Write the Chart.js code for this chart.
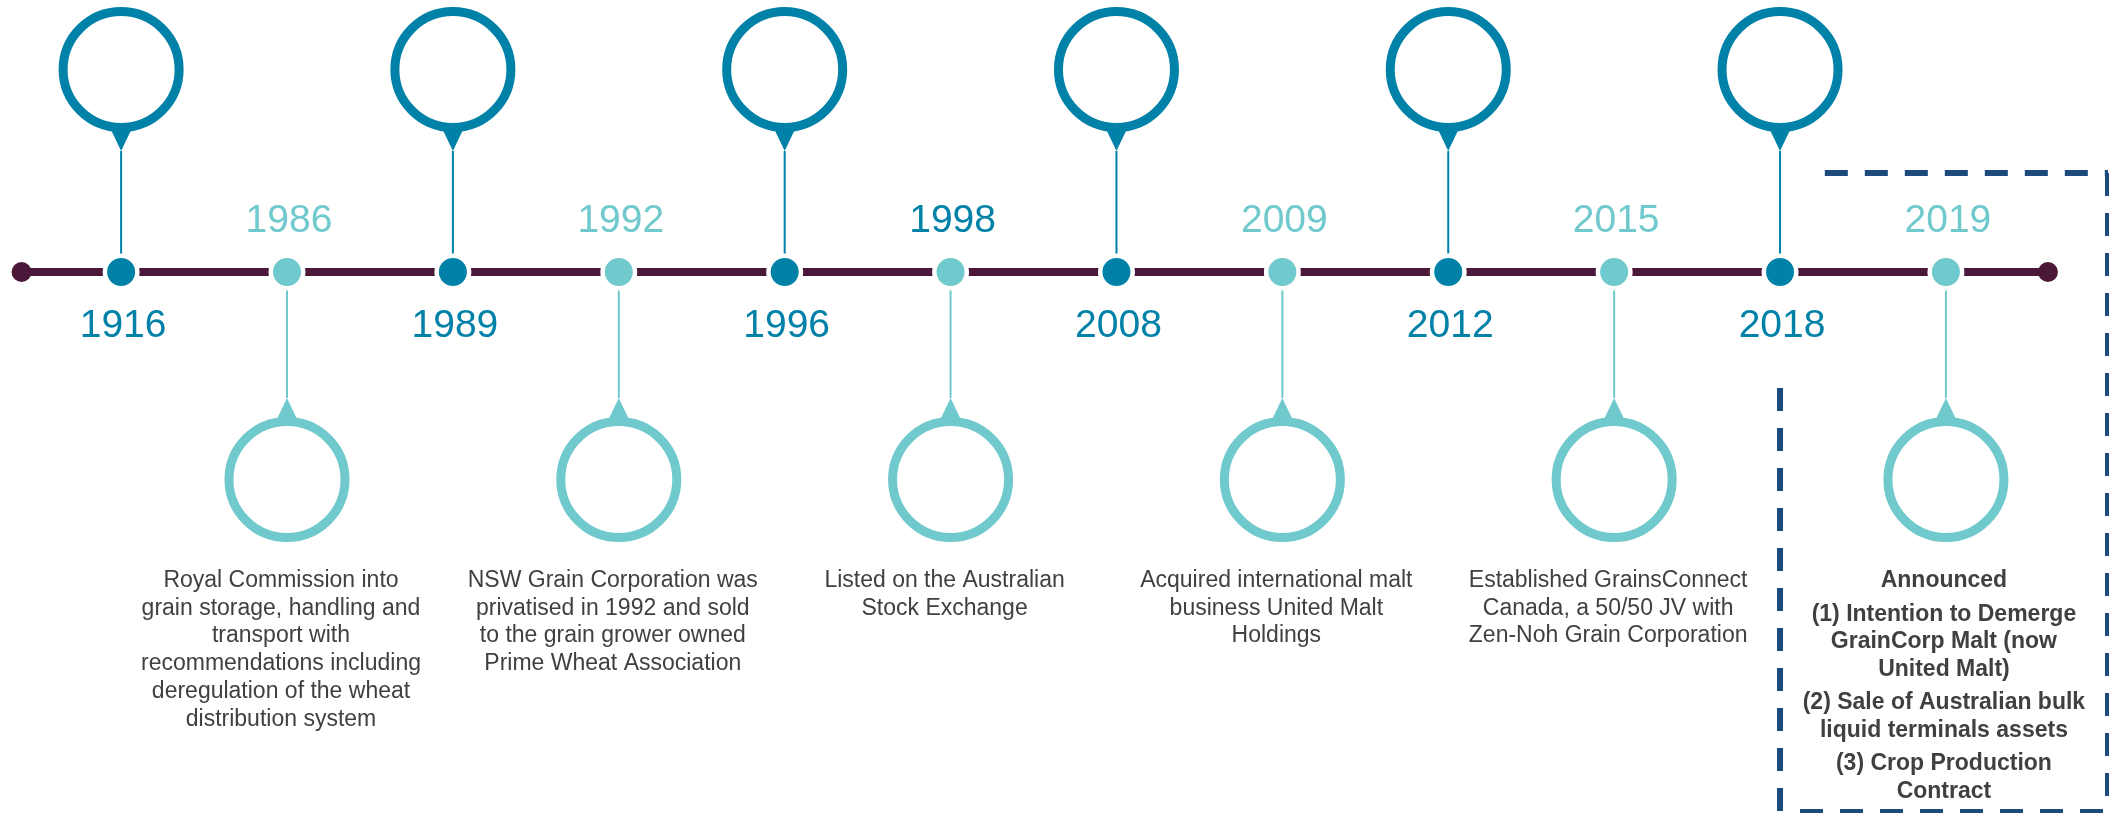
<!DOCTYPE html>
<html>
<head>
<meta charset="utf-8">
<script src="https://cdn.jsdelivr.net/npm/chart.js@4"></script>
<style>
  html, body { margin: 0; padding: 0; background: #fff; }
  #wrap { width: 2109px; height: 813px; position: relative; }
</style>
</head>
<body>
<div id="wrap"><canvas id="timeline"></canvas></div>
<script>
// timeline data
const years = ['1916', '1986', '1989', '1992', '1996', '1998', '2008', '2009', '2012', '2015', '2018', '2019'];
const sides = ['up', 'down', 'up', 'down', 'up', 'down', 'up', 'down', 'up', 'down', 'up', 'down'];
const notes = [
  [],
  ['Royal Commission into', 'grain storage, handling and', 'transport with', 'recommendations including', 'deregulation of the wheat', 'distribution system'],
  [],
  ['NSW Grain Corporation was', 'privatised in 1992 and sold', 'to the grain grower owned', 'Prime Wheat Association'],
  [],
  ['Listed on the Australian', 'Stock Exchange'],
  [],
  ['Acquired international malt', 'business United Malt', 'Holdings'],
  [],
  ['Established GrainsConnect', 'Canada, a 50/50 JV with', 'Zen-Noh Grain Corporation'],
  [],
  []
];
const announcedYear = '2019';
const announcedTitle = 'Announced';
const announcedItems = [
  ['(1) Intention to Demerge', 'GrainCorp Malt (now', 'United Malt)'],
  ['(2) Sale of Australian bulk', 'liquid terminals assets'],
  ['(3) Crop Production', 'Contract']
];

// styles
const DARK = '#0081A8';
const LIGHT = '#70C9CC';
const LINE = '#4B1839';
const NAVY = '#1B4A7D';
const TEXT = '#404040';
const FONT = '"Liberation Sans", Arial, sans-serif';
const darkLabelYears = ['1998'];

// layout (y units: timeline at 0, 1 unit = 1px)
const Y_TOP = 202.5, Y_BOTTOM = -207.5;
const BALLOON_R = 58, BALLOON_W = 9;

const isUp = i => sides[i] === 'up';
const dotColor = i => isUp(i) ? DARK : LIGHT;
const yearColor = i => (isUp(i) || darkLabelYears.includes(years[i])) ? DARK : LIGHT;

const decor = {
  id: 'decor',
  beforeDatasetsDraw(chart) {
    const { ctx, scales: { x, y }, chartArea } = chart;
    const lineY = y.getPixelForValue(0);
    ctx.save();

    // stems + pointers
    years.forEach((yr, i) => {
      const px = x.getPixelForValue(i);
      const c = dotColor(i);
      const dir = isUp(i) ? 1 : -1;
      const cy = y.getPixelForValue(isUp(i) ? Y_TOP : Y_BOTTOM);
      const ringEdge = cy + dir * (BALLOON_R + BALLOON_W / 2);
      const tip = ringEdge + dir * 19;
      ctx.strokeStyle = c;
      ctx.lineWidth = 2;
      ctx.beginPath();
      ctx.moveTo(px, tip);
      ctx.lineTo(px, lineY - dir * 18);
      ctx.stroke();
      ctx.fillStyle = c;
      ctx.beginPath();
      ctx.moveTo(px - 10.5, ringEdge - dir * 3);
      ctx.lineTo(px + 10.5, ringEdge - dir * 3);
      ctx.lineTo(px, tip);
      ctx.closePath();
      ctx.fill();
    });

    // dashed box round the announcement
    const bi = years.indexOf(announcedYear);
    const left = x.getPixelForValue(bi - 1);
    const topStart = x.getPixelForValue(bi - 0.73);
    const right = chartArea.right - 1;
    const top = y.getPixelForValue(99);
    const leftStart = y.getPixelForValue(-116);
    const bottom = chartArea.bottom - 1;
    ctx.strokeStyle = NAVY;
    ctx.lineWidth = 6;
    ctx.setLineDash([23, 17]);
    ctx.beginPath(); ctx.moveTo(topStart, top); ctx.lineTo(right, top); ctx.stroke();
    ctx.beginPath(); ctx.moveTo(right, top); ctx.lineTo(right, bottom); ctx.stroke();
    ctx.beginPath(); ctx.moveTo(left + 20, bottom); ctx.lineTo(right, bottom); ctx.stroke();
    ctx.beginPath(); ctx.moveTo(left, leftStart); ctx.lineTo(left, bottom); ctx.stroke();
    ctx.setLineDash([]);
    ctx.restore();
  },
  afterDatasetsDraw(chart) {
    const { ctx, scales: { x, y } } = chart;
    ctx.save();
    ctx.textAlign = 'center';
    ctx.textBaseline = 'alphabetic';

    years.forEach((yr, i) => {
      const px = x.getPixelForValue(i);
      ctx.font = '39px ' + FONT;
      ctx.fillStyle = yearColor(i);
      ctx.fillText(yr, px + 2, y.getPixelForValue(isUp(i) ? -65 : 40));

      ctx.font = '23px ' + FONT;
      ctx.fillStyle = TEXT;
      notes[i].forEach((line, k) => {
        ctx.fillText(line, px - 6, y.getPixelForValue(-315) + k * 27.7);
      });
    });

    // announcement text
    const bx = x.getPixelForValue(years.indexOf(announcedYear)) - 2;
    let by = y.getPixelForValue(-315);
    ctx.fillStyle = TEXT;
    ctx.font = 'bold 23px ' + FONT;
    ctx.fillText(announcedTitle, bx, by);
    announcedItems.forEach(group => {
      by += 6;
      group.forEach(line => {
        by += 27.5;
        ctx.fillText(line, bx, by);
      });
    });
    ctx.restore();
  }
};

new Chart(document.getElementById('timeline'), {
  type: 'scatter',
  data: {
    datasets: [
      {
        label: 'events',
        data: years.map((_, i) => ({ x: i, y: 0 })),
        pointRadius: 16.25,
        pointBorderWidth: 4.5,
        pointBackgroundColor: years.map((_, i) => dotColor(i)),
        pointBorderColor: '#ffffff',
        order: 1
      },
      {
        label: 'balloons',
        data: years.map((_, i) => ({ x: i, y: isUp(i) ? Y_TOP : Y_BOTTOM })),
        pointRadius: BALLOON_R,
        pointBorderWidth: BALLOON_W,
        pointBackgroundColor: 'rgba(255,255,255,0)',
        pointBorderColor: years.map((_, i) => dotColor(i)),
        order: 2
      },
      {
        type: 'line',
        label: 'timeline',
        data: [{ x: -0.6, y: 0 }, { x: years.length - 1 + 0.615, y: 0 }],
        borderColor: LINE,
        borderWidth: 8,
        pointRadius: 10,
        pointBorderWidth: 0,
        pointBackgroundColor: LINE,
        order: 3
      }
    ]
  },
  options: {
    responsive: true,
    maintainAspectRatio: false,
    animation: false,
    events: [],
    layout: { padding: 0, autoPadding: false },
    plugins: { legend: { display: false }, tooltip: { enabled: false } },
    scales: {
      x: { type: 'linear', min: -0.73, max: years.length - 1 + 0.983, display: false },
      y: { type: 'linear', min: -541, max: 272, display: false }
    }
  },
  plugins: [decor]
});
</script>
</body>
</html>
